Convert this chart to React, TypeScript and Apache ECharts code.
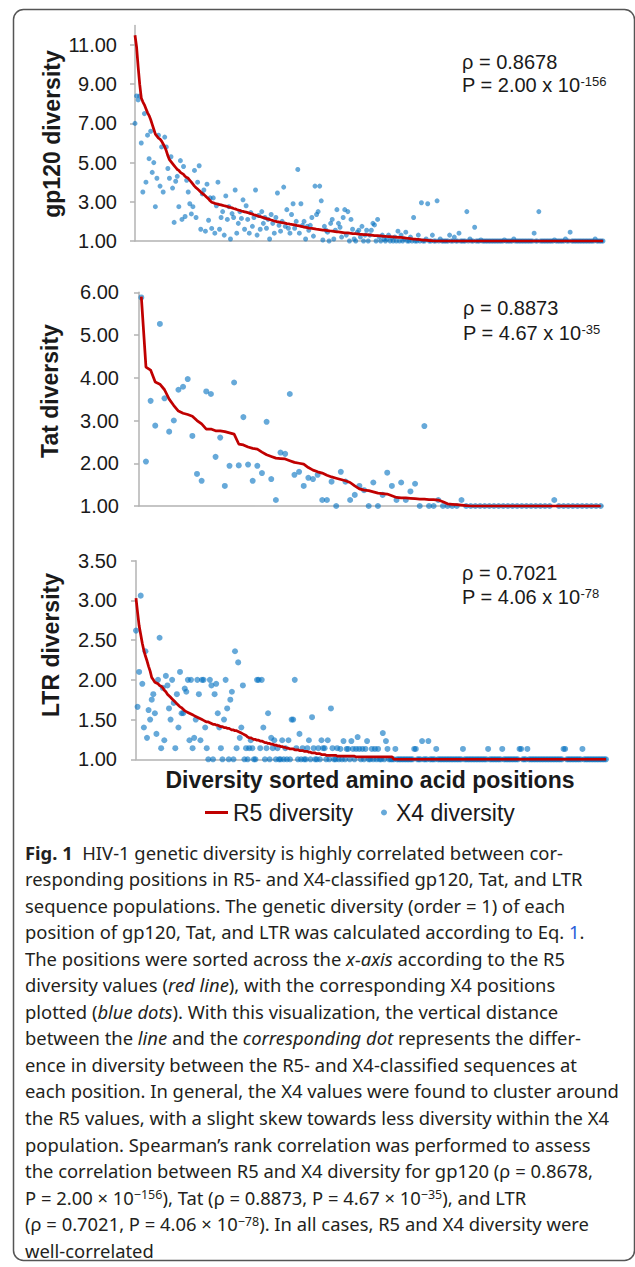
import React, { useEffect, useRef } from "react";
import * as echarts from "echarts";

// ---------------- DATA ----------------
// gp120: 300 sorted positions
const gp120R5 = [
  11.5, 10.9, 9.9, 9.0, 8.3, 8.1, 7.95, 7.75, 7.55, 7.4,
  7.2, 6.95, 6.7, 6.45, 6.35, 6.25, 6.2, 6.1, 5.95, 5.8,
  5.6, 5.35, 5.15, 5.05, 4.95, 4.85, 4.75, 4.65, 4.6, 4.5,
  4.45, 4.4, 4.3, 4.25, 4.2, 4.1, 4.0, 3.9, 3.8, 3.72,
  3.65, 3.58, 3.5, 3.43, 3.37, 3.3, 3.22, 3.15, 3.05, 2.98,
  2.95, 2.92, 2.9, 2.88, 2.86, 2.84, 2.82, 2.8, 2.78, 2.76,
  2.73, 2.71, 2.69, 2.66, 2.64, 2.61, 2.58, 2.56, 2.53, 2.51,
  2.49, 2.47, 2.45, 2.42, 2.4, 2.37, 2.34, 2.32, 2.29, 2.26,
  2.24, 2.22, 2.19, 2.17, 2.14, 2.12, 2.1, 2.07, 2.05, 2.02,
  2.0, 1.98, 1.97, 1.95, 1.94, 1.92, 1.91, 1.89, 1.88, 1.86,
  1.85, 1.83, 1.82, 1.8, 1.78, 1.77, 1.75, 1.73, 1.71, 1.7,
  1.68, 1.66, 1.65, 1.64, 1.63, 1.62, 1.6, 1.59, 1.58, 1.57,
  1.56, 1.55, 1.54, 1.53, 1.52, 1.51, 1.5, 1.49, 1.48, 1.47,
  1.46, 1.45, 1.44, 1.43, 1.42, 1.42, 1.41, 1.4, 1.39, 1.38,
  1.37, 1.37, 1.36, 1.35, 1.34, 1.34, 1.33, 1.32, 1.32, 1.31,
  1.3, 1.3, 1.29, 1.28, 1.28, 1.27, 1.26, 1.26, 1.25, 1.24,
  1.24, 1.23, 1.22, 1.22, 1.21, 1.21, 1.2, 1.2, 1.19, 1.18,
  1.18, 1.17, 1.16, 1.15, 1.14, 1.13, 1.12, 1.11, 1.1, 1.09,
  1.08, 1.08, 1.07, 1.06, 1.05, 1.04, 1.04, 1.03, 1.02, 1.02,
  1.01, 1, 1, 1, 1, 1, 1, 1, 1, 1,
  1, 1, 1, 1, 1, 1, 1, 1, 1, 1,
  1, 1, 1, 1, 1, 1, 1, 1, 1, 1,
  1, 1, 1, 1, 1, 1, 1, 1, 1, 1,
  1, 1, 1, 1, 1, 1, 1, 1, 1, 1,
  1, 1, 1, 1, 1, 1, 1, 1, 1, 1,
  1, 1, 1, 1, 1, 1, 1, 1, 1, 1,
  1, 1, 1, 1, 1, 1, 1, 1, 1, 1,
  1, 1, 1, 1, 1, 1, 1, 1, 1, 1,
  1, 1, 1, 1, 1, 1, 1, 1, 1, 1,
  1, 1, 1, 1, 1, 1, 1, 1, 1, 1,
];

const gp120X4 = [
  7.0, 8.4, 8.2, 8.4, 6.0, 3.5, 7.5, 4.0, 6.4, 5.2,
  6.6, 4.5, 5.0, 2.75, 4.2, 6.4, 3.8, 5.8, 3.5, 6.3,
  5.8, 4.7, 4.2, 5.3, 3.7, 1.95, 4.05, 4.3, 2.75, 5.1,
  2.1, 4.8, 2.25, 4.1, 3.5, 2.9, 2.38, 2.75, 4.6, 2.2,
  4.0, 4.84, 1.6, 3.4, 3.6, 1.5, 3.9, 2.06, 3.2, 1.64,
  3.2, 1.4, 2.8, 4.0, 1.6, 2.2, 2.5, 1.3, 3.3, 2.1,
  2.75, 1.1, 2.4, 2.2, 3.6, 1.4, 1.9, 2.5, 2.15, 3.1,
  1.6, 2.8, 2.1, 1.4, 2.45, 1.75, 2.2, 3.6, 1.3, 2.3,
  1.6, 2.5, 1.9, 2.2, 1.65, 2.1, 1.1, 2.35, 1.9, 1.4,
  2.2, 3.45, 1.8, 1.5, 2.0, 3.75, 1.75, 2.6, 1.65, 1.4,
  2.35, 2.9, 1.65, 2.0, 4.65, 1.4, 2.9, 1.8, 2.0, 1.1,
  1.75, 1.55, 1.8, 2.2, 1.25, 3.8, 2.35, 2.5, 3.8, 3.05,
  1.05, 1.75, 1.55, 1.45, 1.0, 1.9, 2.1, 1.1, 1.55, 2.6,
  1.9, 1.7, 1.2, 2.2, 2.6, 1.3, 2.5, 1.0, 2.1, 1.6,
  1.1, 1.0, 1.45, 1.55, 1.2, 1.75, 1.0, 1.3, 1.55, 1.0,
  1.3, 1.55, 1.9, 1.82, 1.0, 2.1, 1.2, 1.0, 1.3, 1.1,
  1.0, 1.1, 1.3, 1.0, 1.15, 1.0, 1.2, 1.0, 1.5, 1.0,
  1.3, 1.0, 1.1, 1.45, 1.0, 1.0, 1.2, 1.0, 2.2, 1.0,
  1.0, 1.3, 1.0, 2.95, 1.0, 1.0, 1.1, 2.9, 1.0, 1.0,
  1.3, 1.0, 1.0, 3.05, 1.0, 1.1, 1.0, 1.0, 1.0, 1.0,
  1.0, 1.3, 1.0, 1.0, 1.2, 1.0, 1.0, 1.4, 1.0, 1.0,
  1.0, 1.0, 2.5, 1.0, 1.1, 1.0, 1.0, 1.7, 1.0, 1.0,
  1.0, 1.05, 1, 1, 1, 1, 1, 1, 1, 1,
  1, 1, 1, 1, 1, 1, 1.05, 1, 1, 1,
  1, 1, 1.1, 1, 1, 1, 1, 1, 1, 1,
  1, 1, 1, 1, 1, 1.4, 1, 1, 2.5, 1,
  1, 1, 1, 1, 1, 1, 1, 1, 1.05, 1,
  1, 1, 1, 1, 1, 1.1, 1, 1, 1.45, 1,
  1, 1, 1, 1, 1, 1, 1, 1, 1, 1,
  1, 1, 1, 1, 1.1, 1, 1, 1, 1, 1,
];

// Tat: 100 sorted positions
const tatR5 = [
  5.9, 4.25, 4.18, 3.9, 3.85, 3.72, 3.5, 3.35, 3.22, 3.17,
  3.14, 3.1, 3.0, 2.92, 2.8, 2.8, 2.76, 2.76, 2.74, 2.71,
  2.68, 2.45, 2.43, 2.38, 2.35, 2.33, 2.26, 2.2, 2.16, 2.12,
  2.11, 2.1, 2.06, 2.02, 2.0, 1.98, 1.9, 1.84, 1.8, 1.77,
  1.72, 1.68, 1.65, 1.62, 1.59, 1.55, 1.47, 1.4, 1.37, 1.36,
  1.33, 1.3, 1.29, 1.28, 1.24, 1.2, 1.19, 1.19, 1.18, 1.17,
  1.16, 1.16, 1.15, 1.15, 1.14, 1.1, 1.05, 1.04, 1.03, 1.02,
  1.01, 1, 1, 1, 1, 1, 1, 1, 1, 1,
  1, 1, 1, 1, 1, 1, 1, 1, 1, 1,
  1, 1, 1, 1, 1, 1, 1, 1, 1, 1,
];

const tatX4 = [
  5.88, 2.04, 3.46, 2.88, 5.26, 3.52, 2.74, 3.0, 3.72, 3.79,
  3.97, 2.64, 1.75, 1.59, 3.68, 3.62, 2.15, 2.6, 1.47, 1.94,
  3.89, 1.95, 3.08, 1.97, 1.59, 1.94, 1.77, 2.97, 1.63, 1.14,
  2.25, 2.22, 3.62, 1.73, 1.8, 1.47, 1.66, 1.63, 1.73, 1.14,
  1.14, 1.57, 1.0, 1.8, 1.57, 1.14, 1.26, 1.47, 1.37, 1.0,
  1.55, 1.0, 1.26, 1.78, 1.47, 1.14, 1.55, 1.14, 1.34, 1.52,
  1.0, 2.87, 1.0, 1.0, 1.14, 1.0, 1.0, 1.0, 1.0, 1.14,
  1, 1, 1, 1, 1, 1, 1, 1, 1, 1,
  1, 1, 1, 1, 1, 1, 1, 1, 1, 1.14,
  1, 1, 1, 1, 1, 1, 1, 1, 1, 1,
];

// LTR: 300 sorted positions
const ltrR5 = [
  3.03, 2.85, 2.68, 2.57, 2.46, 2.37, 2.3, 2.24, 2.17, 2.11,
  2.03, 2.0, 1.97, 1.96, 1.95, 1.93, 1.92, 1.9, 1.87, 1.85,
  1.82, 1.8, 1.78, 1.76, 1.74, 1.72, 1.7, 1.68, 1.66, 1.65,
  1.63, 1.61, 1.6, 1.59, 1.58, 1.57, 1.56, 1.55, 1.54, 1.53,
  1.52, 1.51, 1.5, 1.49, 1.48, 1.47, 1.47, 1.46, 1.45, 1.44,
  1.44, 1.43, 1.43, 1.42, 1.41, 1.41, 1.4, 1.4, 1.39, 1.39,
  1.38, 1.37, 1.37, 1.36, 1.36, 1.35, 1.34, 1.33, 1.32, 1.31,
  1.3, 1.28, 1.27, 1.27, 1.26, 1.25, 1.25, 1.24, 1.24, 1.23,
  1.23, 1.22, 1.21, 1.21, 1.2, 1.2, 1.19, 1.19, 1.18, 1.18,
  1.17, 1.17, 1.16, 1.16, 1.15, 1.15, 1.14, 1.14, 1.13, 1.13,
  1.13, 1.12, 1.12, 1.12, 1.11, 1.11, 1.11, 1.1, 1.1, 1.1,
  1.09, 1.09, 1.08, 1.08, 1.08, 1.07, 1.07, 1.07, 1.06, 1.06,
  1.06, 1.05, 1.05, 1.05, 1.05, 1.05, 1.05, 1.05, 1.04, 1.04,
  1.04, 1.04, 1.04, 1.04, 1.04, 1.04, 1.04, 1.04, 1.04, 1.04,
  1.03, 1.03, 1.03, 1.03, 1.03, 1.03, 1.03, 1.03, 1.03, 1.03,
  1.03, 1.03, 1.03, 1.03, 1.03, 1.03, 1.03, 1.03, 1.03, 1.03,
  1.03, 1.03, 1.03, 1.03, 1, 1, 1, 1, 1, 1,
  1, 1, 1, 1, 1, 1, 1, 1, 1, 1,
  1, 1, 1, 1, 1, 1, 1, 1, 1, 1,
  1, 1, 1, 1, 1, 1, 1, 1, 1, 1,
  1, 1, 1, 1, 1, 1, 1, 1, 1, 1,
  1, 1, 1, 1, 1, 1, 1, 1, 1, 1,
  1, 1, 1, 1, 1, 1, 1, 1, 1, 1,
  1, 1, 1, 1, 1, 1, 1, 1, 1, 1,
  1, 1, 1, 1, 1, 1, 1, 1, 1, 1,
  1, 1, 1, 1, 1, 1, 1, 1, 1, 1,
  1, 1, 1, 1, 1, 1, 1, 1, 1, 1,
  1, 1, 1, 1, 1, 1, 1, 1, 1, 1,
  1, 1, 1, 1, 1, 1, 1, 1, 1, 1,
  1, 1, 1, 1, 1, 1, 1, 1, 1, 1,
];

const ltrX4 = [
  2.62, 1.66, 2.1, 3.06, 1.95, 1.4, 2.36, 1.27, 1.62, 1.5,
  1.75, 1.82, 1.58, 1.32, 2.0, 2.53, 1.14, 1.9, 1.24, 2.05,
  1.93, 1.64, 1.5, 2.0, 1.71, 1.14, 1.82, 1.4, 2.1, 1.58,
  1.58, 1.89, 1.85, 2.0, 1.24, 2.0, 1.14, 1.27, 1.5, 2.0,
  1.82, 1.24, 2.0, 2.0, 1.4, 1.14, 1.0, 2.0, 1.93, 1.0,
  1.82, 1.95, 1.58, 1.4, 1.14, 1.0, 1.5, 2.0, 1.64, 1.0,
  1.75, 1.85, 1.0, 2.36, 1.14, 2.22, 1.27, 1.4, 1.93, 1.0,
  1.14, 1.0, 1.14, 1.24, 1.14, 1.0, 1.0, 2.0, 2.0, 1.14,
  2.0, 1.4, 1.0, 1.14, 1.58, 1.0, 1.27, 1.14, 1.24, 1.0,
  1.14, 1.0, 1.0, 1.24, 1.0, 1.14, 1.0, 1.24, 1.0, 1.5,
  1.5, 2.0, 1.14, 1.0, 1.32, 1.0, 1.14, 1.0, 1.0, 1.14,
  1.24, 1.0, 1.53, 1.14, 1.0, 1.0, 1.14, 1.0, 1.24, 1.14,
  1.14, 1.0, 1.24, 1.0, 1.64, 1.14, 1.0, 1.0, 1.14, 1.0,
  1.13, 1.0, 1.23, 1.0, 1.13, 1.13, 1.0, 1.23, 1.13, 1.0,
  1.13, 1.28, 1.13, 1.0, 1.13, 1.0, 1.13, 1.23, 1.0, 1.0,
  1.13, 1.0, 1.13, 1.0, 1.13, 1.0, 1.0, 1.33, 1.0, 1.23,
  1.13, 1.0, 1.0, 1.0, 1.0, 1.13, 1.0, 1.0, 1.0, 1.0,
  1, 1, 1, 1, 1, 1, 1, 1.13, 1.13, 1,
  1, 1, 1.23, 1, 1, 1, 1.23, 1, 1, 1,
  1, 1.13, 1, 1, 1, 1, 1, 1, 1, 1,
  1, 1, 1, 1, 1, 1, 1, 1, 1.13, 1,
  1, 1, 1, 1, 1, 1, 1, 1, 1, 1,
  1, 1, 1, 1, 1.13, 1, 1, 1, 1, 1,
  1, 1, 1, 1.13, 1, 1, 1, 1, 1, 1,
  1, 1, 1, 1, 1.13, 1.13, 1, 1, 1, 1.13,
  1, 1, 1, 1, 1, 1, 1, 1, 1, 1,
  1, 1, 1, 1, 1, 1, 1, 1, 1, 1,
  1, 1, 1.13, 1.13, 1, 1, 1, 1, 1, 1,
  1, 1, 1, 1, 1.13, 1, 1, 1, 1, 1,
  1, 1, 1, 1, 1, 1, 1, 1, 1, 1,
];

const gp120TickValues = [1, 3, 5, 7, 9, 11];
const panelTitles = ["gp120 diversity", "Tat diversity", "LTR diversity"];
const rhoLabels = ["ρ = 0.8678", "ρ = 0.8873", "ρ = 0.7021"];
const pMantissas = ["P = 2.00 x 10", "P = 4.67 x 10", "P = 4.06 x 10"];
const pExponents = ["-156", "-35", "-78"];
const xAxisTitle = "Diversity sorted amino acid positions";
const seriesNames = ["R5 diversity", "X4 diversity"];

const captionLines = [
  "{b|Fig. 1}  HIV-1 genetic diversity is highly correlated between cor-",
  "responding positions in R5- and X4-classified gp120, Tat, and LTR",
  "sequence populations. The genetic diversity (order = 1) of each",
  "position of gp120, Tat, and LTR was calculated according to Eq. {l|1}.",
  "The positions were sorted across the {i|x-axis} according to the R5",
  "diversity values ({i|red line}), with the corresponding X4 positions",
  "plotted ({i|blue dots}). With this visualization, the vertical distance",
  "between the {i|line} and the {i|corresponding dot} represents the differ-",
  "ence in diversity between the R5- and X4-classified sequences at",
  "each position. In general, the X4 values were found to cluster around",
  "the R5 values, with a slight skew towards less diversity within the X4",
  "population. Spearman’s rank correlation was performed to assess",
  "the correlation between R5 and X4 diversity for gp120 (ρ = 0.8678,",
  "P = 2.00 × 10{s|−156}), Tat (ρ = 0.8873, P = 4.67 × 10{s|−35}), and LTR",
  "(ρ = 0.7021, P = 4.06 × 10{s|−78}). In all cases, R5 and X4 diversity were",
  "well-correlated",
];

// ---------------- STYLE ----------------
const FONT = "Liberation Sans";
const CAP_FONT = "Noto Sans";
const AXIS_COLOR = "#b3b3b3";
const TEXT = "#1a1a1a";
const RED = "#c00000";
const BLUE = "rgba(0,112,192,0.75)";

const panels = [
  {
    r5: gp120R5, x4: gp120X4,
    grid: { left: 135, top: 25.4, width: 468, height: 215.6 },
    xMin: 1, xMax: 300, yMin: 1, yMax: 12, interval: null as number | null,
    labelMargin: 18, dot: 5,
    title: { x: 52, y: 134 }, ann: { x: 462, y1: 62, y2: 85 },
  },
  {
    r5: tatR5, x4: tatX4,
    grid: { left: 139, top: 292.3, width: 464, height: 213.7 },
    xMin: 0.5, xMax: 100.5, yMin: 1, yMax: 6, interval: 1,
    labelMargin: 20, dot: 6,
    title: { x: 50, y: 391 }, ann: { x: 463, y1: 308, y2: 333 },
  },
  {
    r5: ltrR5, x4: ltrX4,
    grid: { left: 136, top: 560.7, width: 470, height: 198.6 },
    xMin: 1, xMax: 300, yMin: 1, yMax: 3.5, interval: 0.5,
    labelMargin: 19, dot: 6,
    title: { x: 51, y: 645 }, ann: { x: 462, y1: 573, y2: 597 },
  },
];

function buildOption() {
  const grid = panels.map((p) => ({ ...p.grid, containLabel: false, outerBoundsMode: "none" }));
  const xAxis = panels.map((p, i) => ({
    type: "value",
    gridIndex: i,
    min: p.xMin,
    max: p.xMax,
    axisLine: { show: true, onZero: false, lineStyle: { color: AXIS_COLOR, width: 1.5 } },
    axisTick: { show: false },
    axisLabel: { show: false },
    splitLine: { show: false },
  }));
  const yAxis = panels.map((p, i) => {
    const ax: any = {
      type: "value",
      gridIndex: i,
      min: p.yMin,
      max: p.yMax,
      axisLine: { show: true, onZero: false, lineStyle: { color: AXIS_COLOR, width: 1.5 } },
      axisTick: { show: true, length: 5, lineStyle: { color: AXIS_COLOR, width: 1.5 } },
      axisLabel: {
        fontSize: 20,
        fontFamily: FONT,
        color: TEXT,
        margin: p.labelMargin,
        formatter: (v: number) => v.toFixed(2),
      },
      splitLine: { show: false },
    };
    if (p.interval != null) {
      ax.interval = p.interval;
    } else {
      ax.axisLabel.customValues = gp120TickValues;
      ax.axisTick.customValues = gp120TickValues;
    }
    return ax;
  });

  const series: any[] = [];
  panels.forEach((p, i) => {
    series.push({
      type: "scatter",
      name: seriesNames[1],
      xAxisIndex: i,
      yAxisIndex: i,
      data: p.x4.map((v, k) => [k + 1, v]),
      symbol: "circle",
      symbolSize: p.dot,
      itemStyle: { color: BLUE },
      silent: true,
      z: 2,
    });
    series.push({
      type: "line",
      name: seriesNames[0],
      xAxisIndex: i,
      yAxisIndex: i,
      data: p.r5.map((v, k) => [k + 1, v]),
      symbol: "none",
      lineStyle: { color: RED, width: 2.75 },
      itemStyle: { color: RED },
      silent: true,
      z: 3,
    });
  });

  const capBase = { fontSize: 18.4, fontFamily: CAP_FONT, fill: "#231f20" };
  const graphic: any[] = [
    {
      type: "rect",
      silent: true,
      z: -10,
      shape: { x: 13.5, y: 9.5, width: 621, height: 1251, r: 10 },
      style: { fill: "none", stroke: "#555555", lineWidth: 1.5 },
    },
  ];
  panels.forEach((p, i) => {
    graphic.push({
      type: "text",
      silent: true,
      x: p.title.x,
      y: p.title.y,
      rotation: Math.PI / 2,
      style: {
        text: panelTitles[i],
        fontSize: 23,
        fontWeight: "bold",
        fontFamily: FONT,
        fill: TEXT,
        align: "center",
        verticalAlign: "middle",
      },
    });
    graphic.push({
      type: "text",
      silent: true,
      x: p.ann.x,
      y: p.ann.y1,
      style: {
        text: rhoLabels[i],
        fontSize: 20,
        fontFamily: FONT,
        fill: TEXT,
        align: "left",
        verticalAlign: "middle",
      },
    });
    graphic.push({
      type: "text",
      silent: true,
      x: p.ann.x,
      y: p.ann.y2,
      style: {
        text: `${pMantissas[i]}{s|${pExponents[i]}}`,
        fontSize: 20,
        fontFamily: FONT,
        fill: TEXT,
        align: "left",
        verticalAlign: "middle",
        rich: {
          s: { fontSize: 13, fontFamily: FONT, fill: TEXT, verticalAlign: "top" },
        },
      },
    });
  });
  graphic.push({
    type: "text",
    silent: true,
    x: 370,
    y: 780,
    style: {
      text: xAxisTitle,
      fontSize: 23,
      fontWeight: "bold",
      fontFamily: FONT,
      fill: TEXT,
      align: "center",
      verticalAlign: "middle",
    },
  });
  captionLines.forEach((line, k) => {
    graphic.push({
      type: "text",
      silent: true,
      x: 25,
      y: 852 + k * 26.55,
      style: {
        text: line,
        ...capBase,
        align: "left",
        verticalAlign: "middle",
        rich: {
          b: { ...capBase, fontWeight: "bold" },
          i: { ...capBase, fontStyle: "italic" },
          l: { ...capBase, fill: "#2b5fd9" },
          s: { fontSize: 12.5, fontFamily: CAP_FONT, fill: "#231f20", verticalAlign: "top" },
        },
      },
    });
  });

  const legendText = { fontSize: 23, fontFamily: FONT, color: TEXT };
  const legend = [
    {
      data: [{ name: seriesNames[0], icon: "rect" }],
      left: 205,
      top: 801,
      padding: 0,
      itemWidth: 23,
      itemHeight: 3,
      selectedMode: false,
      textStyle: legendText,
    },
    {
      data: [{ name: seriesNames[1], icon: "circle" }],
      left: 381,
      top: 801,
      padding: 0,
      itemWidth: 14,
      itemHeight: 6,
      selectedMode: false,
      textStyle: legendText,
    },
  ];

  return {
    animation: false,
    backgroundColor: "#ffffff",
    grid,
    xAxis,
    yAxis,
    series,
    legend,
    graphic,
  };
}

export default function App() {
  const ref = useRef<HTMLDivElement>(null);
  useEffect(() => {
    if (!ref.current) return;
    const chart = echarts.init(ref.current, undefined, { renderer: "svg" });
    chart.setOption(buildOption() as any);
    return () => chart.dispose();
  }, []);
  return (
    <div
      ref={ref}
      style={{ position: "absolute", left: 0, top: 0, width: 635, height: 1267, background: "#fff" }}
    />
  );
}
